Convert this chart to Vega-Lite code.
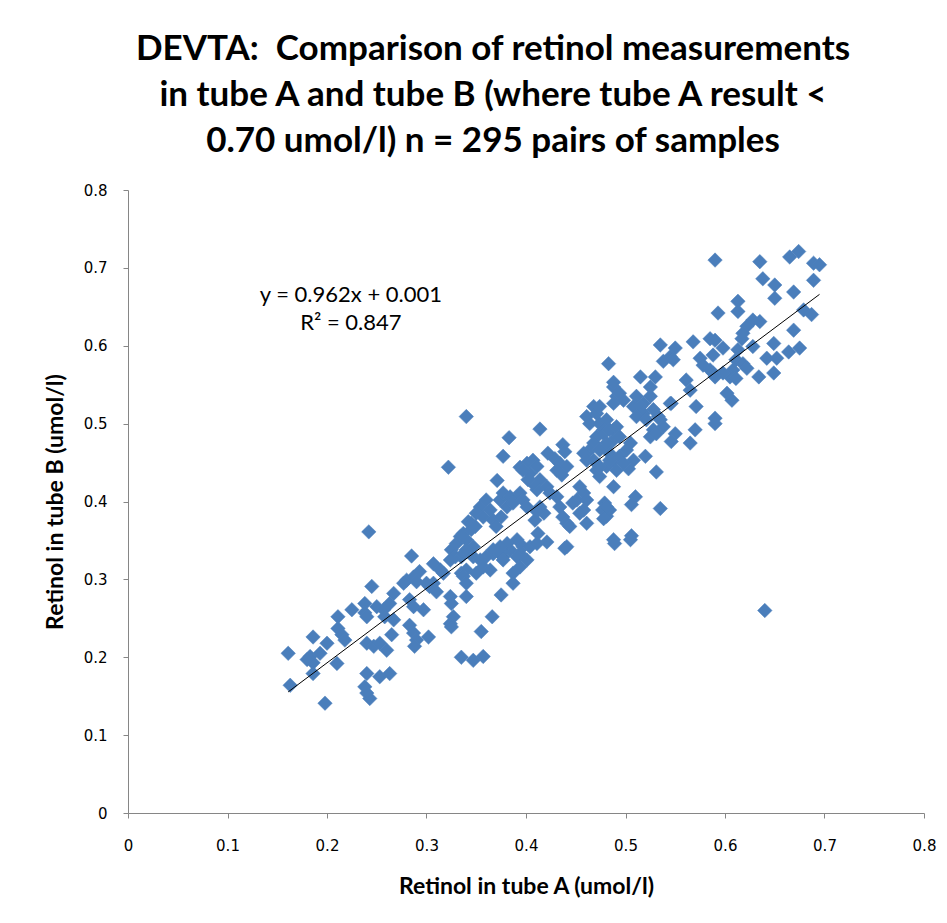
{
  "$schema": "https://vega.github.io/schema/vega-lite/v6.json",
  "autosize": {"type": "none"},
  "width": 796,
  "height": 623,
  "padding": {"left": 128, "top": 190, "right": 23, "bottom": 110},
  "background": "white",
  "config": {"view": {"stroke": null}},
  "title": {
    "text": ["DEVTA:\u00a0 Comparison of retinol measurements", "in tube A and tube B (where tube A result <", "0.70 umol/l) n = 295 pairs of samples"],
    "font": "Lato",
    "fontWeight": "bold",
    "fontSize": 35,
    "lineHeight": 46,
    "color": "#000000",
    "anchor": "middle",
    "frame": "group",
    "dx": -33,
    "offset": 24
  },
  "datasets": {
    "pts": [
      {"A":0.242,"B":0.361},{"A":0.285,"B":0.330},{"A":0.245,"B":0.291},{"A":0.225,"B":0.261},{"A":0.238,"B":0.269},{"A":0.211,"B":0.252},{"A":0.186,"B":0.226},{"A":0.200,"B":0.218},{"A":0.161,"B":0.205},{"A":0.183,"B":0.201},{"A":0.193,"B":0.205},{"A":0.186,"B":0.193},{"A":0.180,"B":0.197},{"A":0.186,"B":0.179},{"A":0.163,"B":0.164},{"A":0.210,"B":0.192},{"A":0.198,"B":0.141},{"A":0.211,"B":0.237},{"A":0.215,"B":0.229},{"A":0.218,"B":0.222},{"A":0.238,"B":0.257},{"A":0.240,"B":0.252},{"A":0.250,"B":0.265},{"A":0.257,"B":0.261},{"A":0.263,"B":0.269},{"A":0.267,"B":0.282},{"A":0.258,"B":0.252},{"A":0.267,"B":0.248},{"A":0.240,"B":0.218},{"A":0.247,"B":0.214},{"A":0.253,"B":0.218},{"A":0.260,"B":0.209},{"A":0.265,"B":0.229},{"A":0.240,"B":0.179},{"A":0.253,"B":0.175},{"A":0.263,"B":0.179},{"A":0.238,"B":0.162},{"A":0.240,"B":0.154},{"A":0.243,"B":0.147},{"A":0.283,"B":0.241},{"A":0.287,"B":0.231},{"A":0.290,"B":0.222},{"A":0.288,"B":0.214},{"A":0.302,"B":0.226},{"A":0.287,"B":0.265},{"A":0.297,"B":0.261},{"A":0.283,"B":0.274},{"A":0.280,"B":0.299},{"A":0.287,"B":0.303},{"A":0.293,"B":0.310},{"A":0.290,"B":0.297},{"A":0.277,"B":0.295},{"A":0.307,"B":0.320},{"A":0.314,"B":0.312},{"A":0.317,"B":0.308},{"A":0.303,"B":0.291},{"A":0.310,"B":0.284},{"A":0.307,"B":0.295},{"A":0.300,"B":0.295},{"A":0.324,"B":0.278},{"A":0.325,"B":0.269},{"A":0.327,"B":0.252},{"A":0.324,"B":0.243},{"A":0.325,"B":0.239},{"A":0.335,"B":0.200},{"A":0.325,"B":0.338},{"A":0.330,"B":0.346},{"A":0.334,"B":0.355},{"A":0.337,"B":0.359},{"A":0.329,"B":0.329},{"A":0.324,"B":0.325},{"A":0.335,"B":0.329},{"A":0.342,"B":0.374},{"A":0.335,"B":0.308},{"A":0.340,"B":0.312},{"A":0.340,"B":0.278},
      {"A":0.340,"B":0.509},{"A":0.322,"B":0.444},{"A":0.383,"B":0.482},{"A":0.414,"B":0.493},{"A":0.377,"B":0.458},{"A":0.371,"B":0.427},{"A":0.394,"B":0.444},{"A":0.401,"B":0.449},{"A":0.407,"B":0.453},{"A":0.411,"B":0.445},{"A":0.404,"B":0.436},{"A":0.397,"B":0.440},{"A":0.422,"B":0.462},{"A":0.429,"B":0.455},{"A":0.437,"B":0.473},{"A":0.439,"B":0.464},{"A":0.434,"B":0.449},{"A":0.441,"B":0.445},{"A":0.431,"B":0.440},{"A":0.436,"B":0.434},{"A":0.414,"B":0.428},{"A":0.421,"B":0.419},{"A":0.411,"B":0.415},{"A":0.424,"B":0.411},{"A":0.407,"B":0.423},{"A":0.402,"B":0.428},{"A":0.431,"B":0.406},{"A":0.434,"B":0.393},{"A":0.437,"B":0.380},{"A":0.441,"B":0.372},{"A":0.444,"B":0.368},{"A":0.454,"B":0.419},{"A":0.458,"B":0.411},{"A":0.451,"B":0.402},{"A":0.461,"B":0.402},{"A":0.458,"B":0.389},{"A":0.454,"B":0.385},{"A":0.447,"B":0.398},{"A":0.461,"B":0.372},{"A":0.479,"B":0.398},{"A":0.484,"B":0.389},{"A":0.477,"B":0.389},{"A":0.481,"B":0.381},{"A":0.488,"B":0.419},{"A":0.488,"B":0.351},{"A":0.441,"B":0.342},{"A":0.412,"B":0.359},{"A":0.421,"B":0.348},{"A":0.391,"B":0.351},{"A":0.397,"B":0.342},{"A":0.394,"B":0.333},{"A":0.384,"B":0.338},{"A":0.381,"B":0.346},{"A":0.374,"B":0.342},{"A":0.367,"B":0.333},{"A":0.360,"B":0.329},{"A":0.377,"B":0.329},{"A":0.340,"B":0.351},{"A":0.345,"B":0.364},{"A":0.347,"B":0.342},{"A":0.337,"B":0.333},{"A":0.354,"B":0.393},{"A":0.360,"B":0.402},{"A":0.350,"B":0.385},{"A":0.357,"B":0.380},{"A":0.364,"B":0.389},{"A":0.367,"B":0.376},{"A":0.370,"B":0.368},{"A":0.375,"B":0.380},{"A":0.381,"B":0.393},{"A":0.374,"B":0.402},{"A":0.377,"B":0.411},{"A":0.384,"B":0.406},{"A":0.391,"B":0.406},{"A":0.394,"B":0.411},{"A":0.387,"B":0.398},{"A":0.397,"B":0.402},{"A":0.401,"B":0.393},{"A":0.345,"B":0.372},{"A":0.349,"B":0.368},{"A":0.414,"B":0.393},{"A":0.418,"B":0.385},{"A":0.411,"B":0.387},{"A":0.409,"B":0.376},{"A":0.461,"B":0.509},{"A":0.468,"B":0.522},{"A":0.471,"B":0.513},{"A":0.464,"B":0.500},{"A":0.474,"B":0.500},{"A":0.481,"B":0.505},{"A":0.478,"B":0.492},{"A":0.471,"B":0.483},{"A":0.468,"B":0.475},{"A":0.464,"B":0.466},{"A":0.458,"B":0.462},{"A":0.461,"B":0.453},{"A":0.468,"B":0.453},{"A":0.471,"B":0.440},{"A":0.474,"B":0.432},{"A":0.481,"B":0.445},{"A":0.481,"B":0.470},{"A":0.488,"B":0.492},{"A":0.488,"B":0.479},{"A":0.484,"B":0.462},{"A":0.488,"B":0.547},{"A":0.491,"B":0.535},{"A":0.488,"B":0.526},{"A":0.488,"B":0.453},{"A":0.491,"B":0.440},
      {"A":0.340,"B":0.338},{"A":0.347,"B":0.329},{"A":0.354,"B":0.325},{"A":0.357,"B":0.316},{"A":0.364,"B":0.312},{"A":0.350,"B":0.308},{"A":0.337,"B":0.304},{"A":0.340,"B":0.295},{"A":0.367,"B":0.338},{"A":0.374,"B":0.333},{"A":0.377,"B":0.325},{"A":0.391,"B":0.329},{"A":0.394,"B":0.316},{"A":0.387,"B":0.308},{"A":0.387,"B":0.295},{"A":0.401,"B":0.325},{"A":0.404,"B":0.342},{"A":0.411,"B":0.346},{"A":0.439,"B":0.340},{"A":0.489,"B":0.346},{"A":0.505,"B":0.351},{"A":0.375,"B":0.280},{"A":0.366,"B":0.252},{"A":0.355,"B":0.233},{"A":0.347,"B":0.196},{"A":0.357,"B":0.201},
      {"A":0.590,"B":0.710},{"A":0.635,"B":0.708},{"A":0.665,"B":0.714},{"A":0.674,"B":0.721},{"A":0.689,"B":0.706},{"A":0.695,"B":0.704},{"A":0.638,"B":0.686},{"A":0.650,"B":0.678},{"A":0.689,"B":0.684},{"A":0.669,"B":0.669},{"A":0.650,"B":0.661},{"A":0.613,"B":0.657},{"A":0.613,"B":0.644},{"A":0.593,"B":0.642},{"A":0.679,"B":0.646},{"A":0.687,"B":0.640},{"A":0.628,"B":0.633},{"A":0.635,"B":0.631},{"A":0.622,"B":0.625},{"A":0.618,"B":0.616},{"A":0.617,"B":0.609},{"A":0.669,"B":0.620},{"A":0.649,"B":0.603},{"A":0.628,"B":0.599},{"A":0.664,"B":0.592},{"A":0.675,"B":0.597},{"A":0.642,"B":0.584},{"A":0.652,"B":0.584},{"A":0.649,"B":0.565},{"A":0.634,"B":0.560},{"A":0.613,"B":0.595},{"A":0.611,"B":0.582},{"A":0.618,"B":0.577},{"A":0.622,"B":0.571},{"A":0.608,"B":0.569},{"A":0.605,"B":0.560},{"A":0.611,"B":0.558},{"A":0.598,"B":0.565},{"A":0.602,"B":0.539},{"A":0.607,"B":0.530},{"A":0.598,"B":0.597},{"A":0.588,"B":0.588},{"A":0.585,"B":0.609},{"A":0.590,"B":0.607},{"A":0.575,"B":0.584},{"A":0.578,"B":0.575},{"A":0.585,"B":0.569},{"A":0.588,"B":0.565},{"A":0.590,"B":0.560},{"A":0.568,"B":0.605},{"A":0.535,"B":0.601},{"A":0.550,"B":0.597},{"A":0.545,"B":0.586},{"A":0.538,"B":0.580},{"A":0.548,"B":0.582},{"A":0.483,"B":0.577},{"A":0.515,"B":0.560},{"A":0.530,"B":0.560},{"A":0.525,"B":0.547},{"A":0.561,"B":0.556},{"A":0.565,"B":0.543},{"A":0.571,"B":0.522},{"A":0.545,"B":0.526},{"A":0.488,"B":0.553},{"A":0.494,"B":0.539},{"A":0.511,"B":0.535},{"A":0.518,"B":0.526},{"A":0.525,"B":0.535},{"A":0.515,"B":0.517},{"A":0.508,"B":0.522},{"A":0.474,"B":0.522},{"A":0.533,"B":0.509},{"A":0.590,"B":0.507},
      {"A":0.498,"B":0.530},{"A":0.515,"B":0.522},{"A":0.518,"B":0.513},{"A":0.528,"B":0.518},{"A":0.511,"B":0.509},{"A":0.521,"B":0.505},{"A":0.535,"B":0.505},{"A":0.538,"B":0.496},{"A":0.528,"B":0.492},{"A":0.525,"B":0.483},{"A":0.531,"B":0.487},{"A":0.546,"B":0.526},{"A":0.590,"B":0.500},{"A":0.570,"B":0.492},{"A":0.565,"B":0.475},{"A":0.550,"B":0.487},{"A":0.546,"B":0.477},{"A":0.505,"B":0.475},{"A":0.501,"B":0.466},{"A":0.520,"B":0.458},{"A":0.531,"B":0.438},{"A":0.503,"B":0.442},{"A":0.508,"B":0.453},{"A":0.494,"B":0.458},{"A":0.498,"B":0.449},{"A":0.484,"B":0.453},{"A":0.481,"B":0.475},{"A":0.478,"B":0.487},{"A":0.484,"B":0.492},{"A":0.491,"B":0.496},{"A":0.494,"B":0.483},{"A":0.474,"B":0.466},{"A":0.474,"B":0.445},{"A":0.510,"B":0.406},{"A":0.506,"B":0.396},{"A":0.535,"B":0.391},{"A":0.481,"B":0.393},{"A":0.478,"B":0.378},{"A":0.506,"B":0.356},{"A":0.640,"B":0.260}
    ],
    "notes": [
      {"A":0.224,"B":0.665,"label":"y = 0.962x + 0.001"},
      {"A":0.224,"B":0.629,"label":"R² = 0.847"}
    ]
  },
  "layer": [
    {
      "data": {"name": "pts"},
      "mark": {"type": "point", "shape": "diamond", "filled": true, "size": 210, "color": "#4A7EBB", "opacity": 1, "stroke": "#4F81BD", "strokeWidth": 0.5},
      "encoding": {
        "x": {"field": "A", "type": "quantitative", "scale": {"domain": [0, 0.8], "nice": false, "zero": true},
          "axis": {"title": "Retinol in tube A (umol/l)", "values": [0,0.1,0.2,0.3,0.4,0.5,0.6,0.7,0.8], "format": "~g", "grid": false,
            "domainColor": "#868686", "tickColor": "#868686", "tickSize": 5, "labelPadding": 20, "labelFont": "DejaVu Sans", "labelFontSize": 15, "labelColor": "#000000",
            "titleFont": "Lato", "titleFontWeight": "bold", "titleFontSize": 23, "titleColor": "#000000", "titlePadding": 22, "labelFlush": false}},
        "y": {"field": "B", "type": "quantitative", "scale": {"domain": [0, 0.8], "nice": false, "zero": true},
          "axis": {"title": "Retinol in tube B (umol/l)", "values": [0,0.1,0.2,0.3,0.4,0.5,0.6,0.7,0.8], "format": "~g", "grid": false,
            "domainColor": "#868686", "tickColor": "#868686", "tickSize": 5, "labelPadding": 16, "labelFont": "DejaVu Sans", "labelFontSize": 15, "labelColor": "#000000",
            "titleFont": "Lato", "titleFontWeight": "bold", "titleFontSize": 23, "titleColor": "#000000", "titlePadding": 16, "labelFlush": false}}
      }
    },
    {
      "data": {"name": "pts"},
      "transform": [{"regression": "B", "on": "A"}],
      "mark": {"type": "line", "color": "#000000", "strokeWidth": 1},
      "encoding": {
        "x": {"field": "A", "type": "quantitative"},
        "y": {"field": "B", "type": "quantitative"}
      }
    },
    {
      "data": {"name": "notes"},
      "mark": {"type": "text", "font": "Lato", "fontSize": 22, "color": "#000000", "align": "center", "baseline": "middle"},
      "encoding": {
        "x": {"field": "A", "type": "quantitative"},
        "y": {"field": "B", "type": "quantitative"},
        "text": {"field": "label"}
      }
    }
  ]
}
